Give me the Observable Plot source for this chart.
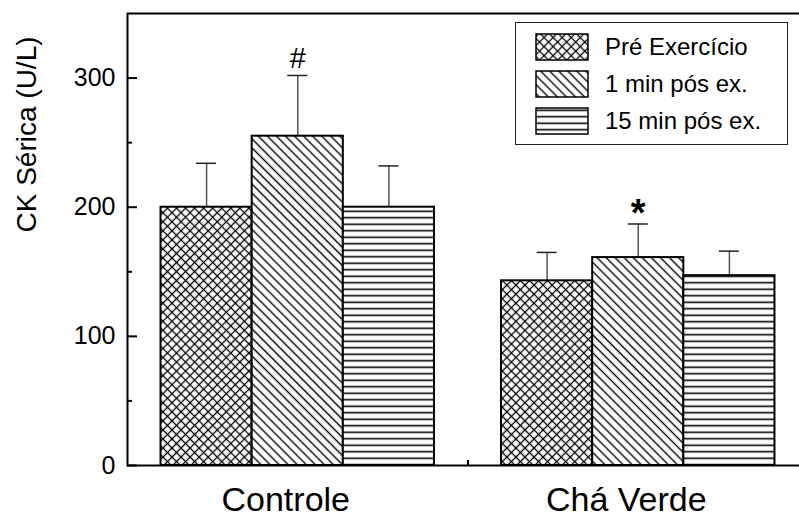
<!DOCTYPE html>
<html><head><meta charset="utf-8">
<script src="https://cdn.jsdelivr.net/npm/d3@7"></script>
<script src="https://cdn.jsdelivr.net/npm/@observablehq/plot@0.6"></script>
<style>
html,body{margin:0;padding:0;overflow:hidden;background:#fff;}
#wrap{position:relative;width:799px;height:519px;overflow:hidden;font-family:"Liberation Sans",Arial,Helvetica,sans-serif;}
#legend{position:absolute;left:515px;top:22px;width:273px;height:123px;border:1px solid #222;box-sizing:border-box;background:#fff;}
.row{position:absolute;left:19px;height:28px;display:flex;align-items:center;white-space:nowrap;}
.row svg{width:54px;height:28px;display:block;}
.row span{margin-left:16px;font-size:24px;color:#000;}
</style></head><body><div id="wrap"><div id="legend"></div></div>
<script>
// ---- data ----
const groups = ["Controle", "Chá Verde"];
const seriesNames = ["Pré Exercício", "1 min pós ex.", "15 min pós ex."];
const preMean = [200, 143];
const preErr = [34, 22];
const min1Mean = [255, 161];
const min1Err = [47, 26];
const min15Mean = [200, 147];
const min15Err = [32, 19];
const annotText = ["#", "*"]; // over the "1 min pós ex." bar of each group
const yTicks = [0, 100, 200, 300];
const yMinorTicks = [50, 150, 250];

// ---- build table ----
const means = [preMean, min1Mean, min15Mean];
const errs = [preErr, min1Err, min15Err];
const patIds = ["pat-cross", "pat-diag", "pat-horiz"];
const barW = 0.2677;
const cap = 0.0294;
const rows = [];
seriesNames.forEach((s, k) => groups.forEach((g, gi) => {
  const x1 = gi + 1 + (k - 1.5) * barW;
  rows.push({group: g, series: s, k, v: means[k][gi], e: errs[k][gi], x1, x2: x1 + barW, xc: x1 + barW / 2});
}));
const annots = groups.map((g, gi) => {
  const r = rows.find(d => d.k === 1 && d.group === g);
  return {...r, text: annotText[gi]};
});

const font = '"Liberation Sans", Arial, Helvetica, sans-serif';
const chart = Plot.plot({
  width: 810, height: 519,
  marginLeft: 127, marginRight: 2, marginTop: 13, marginBottom: 54,
  x: {domain: [0.5, 2.5]},
  y: {domain: [0, 350]},
  style: {fontFamily: font, background: "transparent", color: "#000", maxWidth: "none"},
  marks: [
    Plot.ruleX(rows, {x: "xc", y1: "v", y2: d => d.v + d.e, stroke: "#555", strokeWidth: 1.5}),
    Plot.ruleY(rows, {y: d => d.v + d.e, x1: d => d.xc - cap, x2: d => d.xc + cap, stroke: "#222", strokeWidth: 1.5}),
    ...seriesNames.map((s, k) => Plot.rect(rows.filter(d => d.k === k), {
      x1: "x1", x2: "x2", y1: 0, y2: "v", fill: `url(#${patIds[k]})`, stroke: "#000", strokeWidth: 2
    })),
    Plot.text(annots.filter(d => d.text === "#"), {x: "xc", y: d => d.v + d.e, text: "text", dy: -17, fontSize: 29}),
    Plot.text(annots.filter(d => d.text === "*"), {x: "xc", y: d => d.v + d.e, text: "text", dy: -10, fontSize: 38, fontWeight: "bold"}),
    Plot.axisY({ticks: yTicks, tickSize: -10, tickPadding: 22, fontSize: 25, strokeWidth: 2, label: null}),
    Plot.axisY({ticks: yMinorTicks, tickSize: -5, tickFormat: () => "", strokeWidth: 2, label: null}),
    Plot.axisX({ticks: [1.5], tickSize: -5, tickFormat: () => "", strokeWidth: 2, label: null}),
    Plot.axisX({ticks: [1, 2], tickSize: 0, tickPadding: 21, tickFormat: i => groups[i - 1], fontSize: 34, dx: -12, label: null}),
    Plot.text(["CK Sérica (U/L)"], {frameAnchor: "left", rotate: -90, dx: -100, dy: -7, fontSize: 28, text: d => d}),
    Plot.frame({strokeWidth: 2})
  ]
});
chart.style.maxWidth = "none";
chart.style.height = "519px";
chart.style.width = "810px";

// pattern definitions
const defs = `
<defs>
<pattern id="pat-cross" patternUnits="userSpaceOnUse" width="6.4" height="6.4" patternTransform="rotate(45)">
  <rect width="6.4" height="6.4" fill="#fff"/>
  <line x1="0" y1="3.2" x2="6.4" y2="3.2" stroke="#000" stroke-width="1.3"/>
  <line x1="3.2" y1="0" x2="3.2" y2="6.4" stroke="#000" stroke-width="1.3"/>
</pattern>
<pattern id="pat-diag" patternUnits="userSpaceOnUse" width="6.4" height="6.4" patternTransform="rotate(45)">
  <rect width="6.4" height="6.4" fill="#fff"/>
  <line x1="0" y1="3.2" x2="6.4" y2="3.2" stroke="#000" stroke-width="1.4"/>
</pattern>
<pattern id="pat-horiz" patternUnits="userSpaceOnUse" width="10" height="6.5">
  <rect width="10" height="6.5" fill="#fff"/>
  <line x1="0" y1="3.25" x2="10" y2="3.25" stroke="#000" stroke-width="1.6"/>
</pattern>
</defs>`;
chart.insertAdjacentHTML("afterbegin", defs);
chart.style.position = "absolute";
chart.style.left = "0";
chart.style.top = "0";
const wrap = document.getElementById("wrap");
wrap.insertBefore(chart, wrap.firstChild);

// legend
const legend = document.getElementById("legend");
seriesNames.forEach((s, k) => {
  const row = document.createElement("div");
  row.className = "row";
  row.style.top = (10 + k * 37) + "px";
  row.innerHTML = `<svg viewBox="0 0 54 28"><rect x="1" y="1" width="52" height="26" fill="url(#${patIds[k]})" stroke="#000" stroke-width="1.5"/></svg><span>${s}</span>`;
  legend.appendChild(row);
});
</script></body></html>
